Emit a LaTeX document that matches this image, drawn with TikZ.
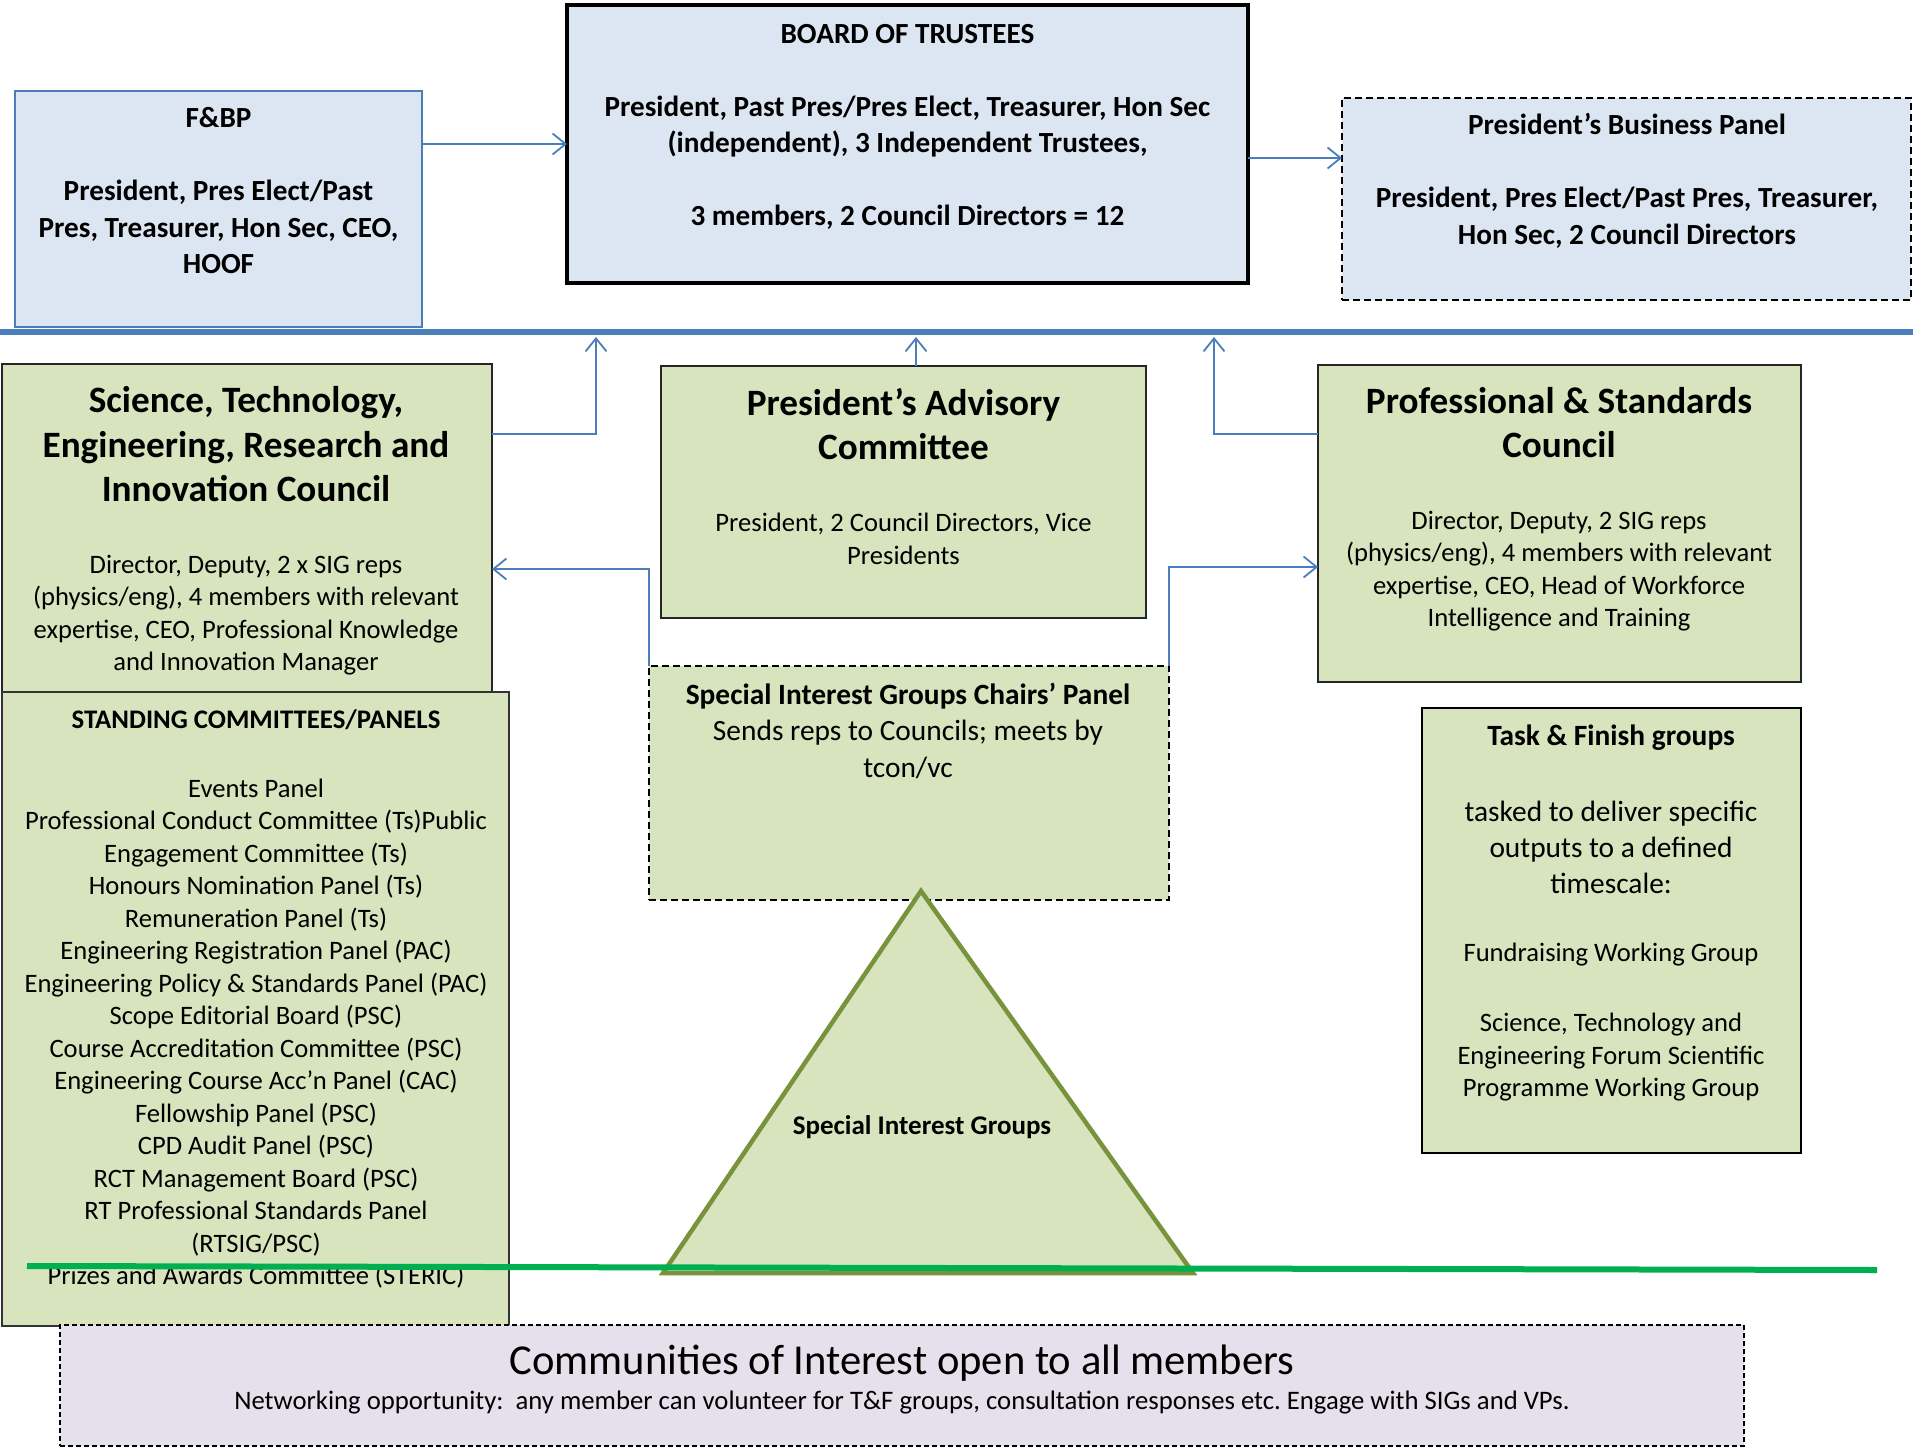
\documentclass[tikz,border=0pt]{standalone}
\usepackage{fontspec}
\setmainfont{Carlito}
\usetikzlibrary{arrows.meta}
\definecolor{bfill}{HTML}{DCE6F2}
\definecolor{bline}{HTML}{4A7EBB}
\definecolor{gfill}{HTML}{D7E4BD}
\definecolor{olive}{HTML}{77933C}
\definecolor{gline}{HTML}{00B050}
\definecolor{lfill}{HTML}{E5E0EC}
\frenchspacing
\begin{document}
\begin{tikzpicture}[x=1pt,y=-1pt,
  box/.style={rectangle,inner sep=0pt,outer sep=0pt},
  arr/.style={draw=bline,line width=1.8pt,-{Straight Barb[length=13pt,width=21pt]}},
  txt/.style={align=center,inner sep=0pt,text=black},
  bodyf/.style={font=\fontsize{26.6pt}{32.5pt}\selectfont},
  titlef/.style={font=\fontsize{37.2pt}{44.5pt}\selectfont\bfseries},
  topf/.style={font=\fontsize{29.2pt}{36.5pt}\selectfont\bfseries},
  dashbox/.style={draw=black,line width=2pt,dash pattern=on 7pt off 4pt},
]
\useasboundingbox (0,0) rectangle (1920,1448);
\fill[white] (0,0) rectangle (1920,1448);

% top row
\node[box,draw=bline,line width=2pt,fill=bfill,minimum width=407pt,minimum height=236pt] (fbp) at (218.5,209) {};
\node[box,draw=black,line width=4pt,fill=bfill,minimum width=681pt,minimum height=278pt] (bot) at (907.5,144) {};
\node[box,dashbox,fill=bfill,minimum width=569pt,minimum height=202pt] (pbp) at (1626.5,199) {};

\node[txt,topf] (fbp-t) at (218.5,191) {F\&BP\\[36.5pt]President, Pres Elect/Past\\Pres, Treasurer, Hon Sec, CEO,\\HOOF};
\node[txt,topf] (bot-t) at (907.5,127) {BOARD OF TRUSTEES\\[36.5pt]President, Past Pres/Pres Elect, Treasurer, Hon Sec\\(independent), 3 Independent Trustees,\\[36.5pt]3 members, 2 Council Directors = 12};
\node[txt,topf] (pbp-t) at (1627,180.5) {President’s Business Panel\\[37pt]President, Pres Elect/Past Pres, Treasurer,\\Hon Sec, 2 Council Directors};

% blue separator
\coordinate (bl-l) at (0,332);
\coordinate (bl-r) at (1913,332);
\coordinate (blb) at (0,337);
\draw[bline,line width=6pt] (bl-l) -- (bl-r);

% councils
\node[box,draw=black!85,line width=1.5pt,fill=gfill,minimum width=490pt,minimum height=328pt] (steric) at (247,528) {};
\node[box,draw=black!85,line width=1.5pt,fill=gfill,minimum width=485pt,minimum height=252pt] (pac) at (903.5,492) {};
\node[box,draw=black!85,line width=1.5pt,fill=gfill,minimum width=483pt,minimum height=317pt] (psc) at (1559.5,523.5) {};
\node[box,dashbox,fill=gfill,minimum width=520pt,minimum height=234pt] (sigc) at (909,783) {};
\node[box,draw=black!80,line width=1.2pt,fill=gfill,minimum width=507pt,minimum height=634pt] (stand) at (255.5,1009) {};
\node[box,draw=black,line width=2.5pt,fill=gfill,minimum width=379pt,minimum height=445pt] (tf) at (1611.5,930.5) {};

\node[txt,titlef] (steric-t) at (246,444.5) {Science, Technology,\\Engineering, Research and\\Innovation Council};
\node[txt,bodyf] (steric-b) at (246,615) {Director, Deputy, 2 x SIG reps\\(physics/eng), 4 members with relevant\\expertise, CEO, Professional Knowledge\\and Innovation Manager};
\node[txt,titlef] (pac-t) at (903.5,424) {President’s Advisory\\Committee};
\node[txt,bodyf] (pac-b) at (903.5,539) {President, 2 Council Directors, Vice\\Presidents};
\node[txt,titlef] (psc-t) at (1559,422.5) {Professional \& Standards\\Council};
\node[txt,bodyf] (psc-b) at (1559,571) {Director, Deputy, 2 SIG reps\\(physics/eng), 4 members with relevant\\expertise, CEO, Head of Workforce\\Intelligence and Training};
\node[txt,font=\fontsize{29.4pt}{36.5pt}\selectfont] (sigc-t) at (908,730.5) {\textbf{Special Interest Groups Chairs’ Panel}\\Sends reps to Councils; meets by\\tcon/vc};

\node[txt,font=\fontsize{26.8pt}{30pt}\selectfont\bfseries] (stand-t) at (256,720) {STANDING COMMITTEES/PANELS};
\node[txt,bodyf] (stand-l) at (256,1033.75) {Events Panel\\Professional Conduct Committee (Ts)Public\\Engagement Committee (Ts)\\Honours Nomination Panel (Ts)\\Remuneration Panel (Ts)\\Engineering Registration Panel (PAC)\\Engineering Policy \& Standards Panel (PAC)\\Scope Editorial Board (PSC)\\Course Accreditation Committee (PSC)\\Engineering Course Acc’n Panel (CAC)\\Fellowship Panel (PSC)\\CPD Audit Panel (PSC)\\RCT Management Board (PSC)\\RT Professional Standards Panel\\(RTSIG/PSC)\\Prizes and Awards Committee (STERIC)};

\node[txt,font=\fontsize{29.4pt}{32pt}\selectfont\bfseries] (tf-t) at (1611,738) {Task \& Finish groups};
\node[txt,font=\fontsize{29.4pt}{36pt}\selectfont] (tf-a) at (1611,847) {tasked to deliver specific\\outputs to a defined\\timescale:};
\node[txt,bodyf] (tf-b) at (1611,955) {Fundraising Working Group};
\node[txt,bodyf] (tf-c) at (1611,1057.5) {Science, Technology and\\Engineering Forum Scientific\\Programme Working Group};

% connectors
\coordinate (k1) at (1300,158);
\coordinate (k2) at (596,434);
\coordinate (k3) at (916,0);
\coordinate (k4) at (1214,434);
\coordinate (k5) at (0,569);
\coordinate (k6) at (0,567);
\draw[arr] (fbp.east |- bot.west) -- (bot.west);
\draw[arr] (bot.east |- k1) -- (pbp.west |- k1);
\draw[arr] (steric.east |- k2) -| (k2 |- blb);
\draw[arr] (pac.north -| k3) -- (k3 |- blb);
\draw[arr] (psc.west |- k4) -| (k4 |- blb);
\draw[arr] (sigc.north west) |- (steric.east |- k5);
\draw[arr] (sigc.north east) |- (psc.west |- k6);

% triangle
\coordinate (tri-a) at (921,891);
\coordinate (tri-l) at (663,1273);
\coordinate (tri-r) at (1193,1273);
\draw[olive,fill=gfill,line width=4.5pt,line join=miter] (tri-a) -- (tri-r) -- (tri-l) -- cycle;
\node[txt,font=\fontsize{27pt}{30pt}\selectfont\bfseries] (sig-t) at (922,1127) {Special Interest Groups};

% green line
\coordinate (gl-l) at (27,1266);
\coordinate (gl-r) at (1877,1270);
\draw[gline,line width=6pt] (gl-l) -- (gl-r);

% communities
\node[box,draw=black,line width=1.8pt,dash pattern=on 5pt off 3pt,fill=lfill,minimum width=1684pt,minimum height=121pt] (com) at (902,1385.5) {};
\node[txt,font=\fontsize{42.6pt}{50pt}\selectfont] (com-t) at (902,1363) {Communities of Interest open to all members};
\node[txt,font=\fontsize{26.7pt}{32pt}\selectfont] (com-b) at (902,1403) {Networking opportunity:\ \ any member can volunteer for T\&F groups, consultation responses etc. Engage with SIGs and VPs.};
\end{tikzpicture}
\end{document}
